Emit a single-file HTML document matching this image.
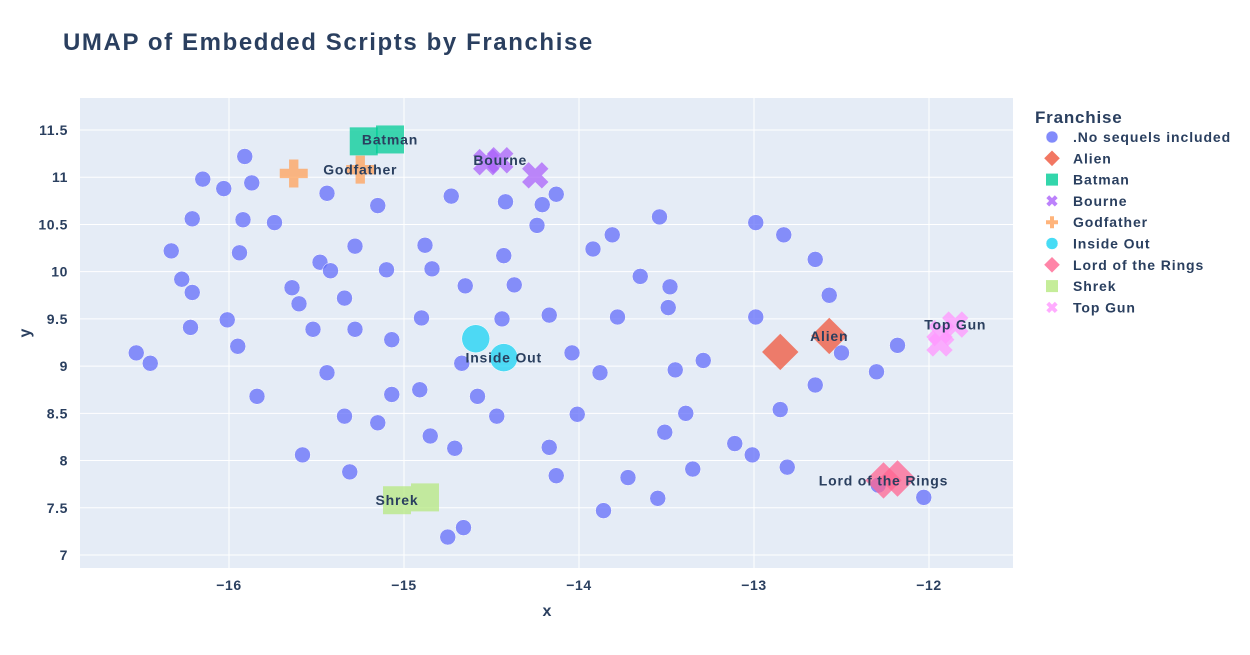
<!DOCTYPE html>
<html><head><meta charset="utf-8"><style>
body{margin:0;background:#fff;font-family:"Liberation Sans",Arial,sans-serif;}
svg text{font-family:"Liberation Sans",Arial,sans-serif;fill:#2a3f5f;}
</style></head><body>
<svg id="chart" width="1250" height="650">
<text x="63" y="50" font-size="24" font-weight="bold" letter-spacing="1.6">UMAP of Embedded Scripts by Franchise</text>
<rect x="80" y="98" width="933" height="470" fill="#e5ecf6"/>
<g id="grid"></g><g id="marks"></g><g id="labels"></g><g id="legend"></g>
<text x="547" y="616" font-size="16" font-weight="bold" text-anchor="middle">x</text>
<text x="30" y="333" font-size="16" font-weight="bold" text-anchor="middle" transform="rotate(-90 30 333)">y</text>
</svg>
<script>
const xTicks=[-16,-15,-14,-13,-12];
const yTicks=[7,7.5,8,8.5,9,9.5,10,10.5,11,11.5];
const baseX=[-16.53,-16.45,-16.15,-16.21,-16.33,-16.27,-16.21,-16.22,-15.91,-16.03,-15.87,-15.92,-15.94,-16.01,-15.95,-15.74,-15.64,-15.60,-15.48,-15.44,-15.42,-15.52,-15.44,-15.84,-15.58,-15.34,-15.31,-15.28,-15.34,-15.28,-15.15,-15.10,-15.07,-15.07,-15.15,-14.88,-14.84,-14.90,-14.91,-14.85,-14.73,-14.65,-14.67,-14.58,-14.71,-14.66,-14.75,-14.47,-14.43,-14.37,-14.44,-14.24,-14.21,-14.13,-14.42,-14.17,-14.04,-14.01,-14.17,-14.13,-13.92,-13.81,-13.78,-13.88,-13.86,-13.72,-13.65,-13.54,-13.48,-13.49,-13.45,-13.29,-13.51,-13.39,-13.35,-13.55,-13.11,-12.99,-12.83,-12.99,-13.01,-12.85,-12.81,-12.65,-12.57,-12.50,-12.65,-12.30,-12.18,-12.03,-12.29];
const baseY=[9.14,9.03,10.98,10.56,10.22,9.92,9.78,9.41,11.22,10.88,10.94,10.55,10.20,9.49,9.21,10.52,9.83,9.66,10.10,10.83,10.01,9.39,8.93,8.68,8.06,8.47,7.88,10.27,9.72,9.39,10.70,10.02,9.28,8.70,8.40,10.28,10.03,9.51,8.75,8.26,10.80,9.85,9.03,8.68,8.13,7.29,7.19,8.47,10.17,9.86,9.50,10.49,10.71,10.82,10.74,9.54,9.14,8.49,8.14,7.84,10.24,10.39,9.52,8.93,7.47,7.82,9.95,10.58,9.84,9.62,8.96,9.06,8.30,8.50,7.91,7.60,8.18,10.52,10.39,9.52,8.06,8.54,7.93,10.13,9.75,9.14,8.80,8.94,9.22,7.61,7.74];
const franchises=["Alien","Batman","Bourne","Godfather","Inside Out","Lord of the Rings","Shrek","Top Gun"];
const franX=[[-12.85,-12.57],[-15.23,-15.08],[-14.53,-14.45,-14.25],[-15.63,-15.25],[-14.59,-14.43],[-12.26,-12.18],[-15.04,-14.88],[-11.93,-11.85,-11.94]];
const franY=[[9.15,9.32],[11.38,11.40],[11.16,11.18,11.02],[11.04,11.08],[9.29,9.09],[7.79,7.81],[7.58,7.61],[9.35,9.44,9.24]];
const labelIdx=[1,1,1,1,1,0,0,1];
const colors=["#EF553B","#00cc96","#ab63fa","#FFA15A","#19d3f3","#FF6692","#B6E880","#FF97FF"];
const symbols=["diamond","square","x","cross","circle","diamond","square","x"];
const ns="http://www.w3.org/2000/svg";
const sx=v=>229+(v+16)*175, sy=v=>555-(v-7)*94.44;
function mk(t,a,p){const e=document.createElementNS(ns,t);for(const k in a)e.setAttribute(k,a[k]);p.appendChild(e);return e;}
const grid=document.getElementById('grid');
xTicks.forEach(t=>{
 const l=mk('line',{x1:sx(t),x2:sx(t),y1:98,y2:568,stroke:'#fff','stroke-width':1},grid);
 
 
 const tx=mk('text',{x:sx(t),y:590,'font-size':14,'font-weight':'bold','text-anchor':'middle','letter-spacing':0.6},grid);
 tx.textContent=(t<0?'\u2212'+(-t):t);
 
 
});
yTicks.forEach(t=>{
 const l=mk('line',{x1:80,x2:1013,y1:sy(t),y2:sy(t),stroke:'#fff','stroke-width':1},grid);
 
 
 const tx=mk('text',{x:68,y:sy(t)+5,'font-size':14,'font-weight':'bold','text-anchor':'end','letter-spacing':0.6},grid);
 tx.textContent=t;
 
 
});
function sym(kind,cx,cy,s,color,p,op){
 let e;
 if(kind==='circle')e=mk('circle',{cx,cy,r:s/2,fill:color,'fill-opacity':op,stroke:'#fff','stroke-width':0.5},p);
 else if(kind==='square')e=mk('rect',{x:cx-s/2,y:cy-s/2,width:s,height:s,fill:color,'fill-opacity':op},p);
 else if(kind==='diamond'){const h=s*0.65;e=mk('polygon',{points:`${cx},${cy-h} ${cx+h},${cy} ${cx},${cy+h} ${cx-h},${cy}`,fill:color,'fill-opacity':op},p);}
 else {const a=s/2,b=s/6;e=mk('polygon',{points:`${cx-b},${cy-a} ${cx+b},${cy-a} ${cx+b},${cy-b} ${cx+a},${cy-b} ${cx+a},${cy+b} ${cx+b},${cy+b} ${cx+b},${cy+a} ${cx-b},${cy+a} ${cx-b},${cy+b} ${cx-a},${cy+b} ${cx-a},${cy-b} ${cx-b},${cy-b}`,fill:color,'fill-opacity':op},p);
  if(kind==='x')e.setAttribute('transform',`rotate(45 ${cx} ${cy})`);}
 return e;
}
const marks=document.getElementById('marks');
baseX.forEach((x,i)=>{
 const e=sym('circle',sx(x),sy(baseY[i]),16,'#636efa',marks,0.75);
 
 
});
const labels=document.getElementById('labels');
franchises.forEach((f,k)=>{
 franX[k].forEach((x,i)=>{
  const e=sym(symbols[k],sx(x),sy(franY[k][i]),28,colors[k],marks,0.75);
  
  
 });
 const j=labelIdx[k];
 const t=mk('text',{x:sx(franX[k][j]),y:sy(franY[k][j])+5,'font-size':14,'font-weight':'bold','text-anchor':'middle','letter-spacing':0.8},labels);
 t.textContent=f;
 
 
});
const lg=document.getElementById('legend');
const lt=mk('text',{x:1035,y:123,'font-size':17,'font-weight':'bold','letter-spacing':0.8},lg);
lt.textContent='Franchise';


const names=[".No sequels included"].concat(franchises);
const lc=["#636efa"].concat(colors), ls=["circle"].concat(symbols);
names.forEach((n,i)=>{
 const y=137+i*21.3;
 const g=mk('g',{},lg);
 
 
 sym(ls[i],1052,y,12,lc[i],g,0.8);
 const t=mk('text',{x:1073,y:y+5,'font-size':14,'font-weight':'bold','letter-spacing':0.9},g);
 t.textContent=n;
});
</script>
</body></html>
